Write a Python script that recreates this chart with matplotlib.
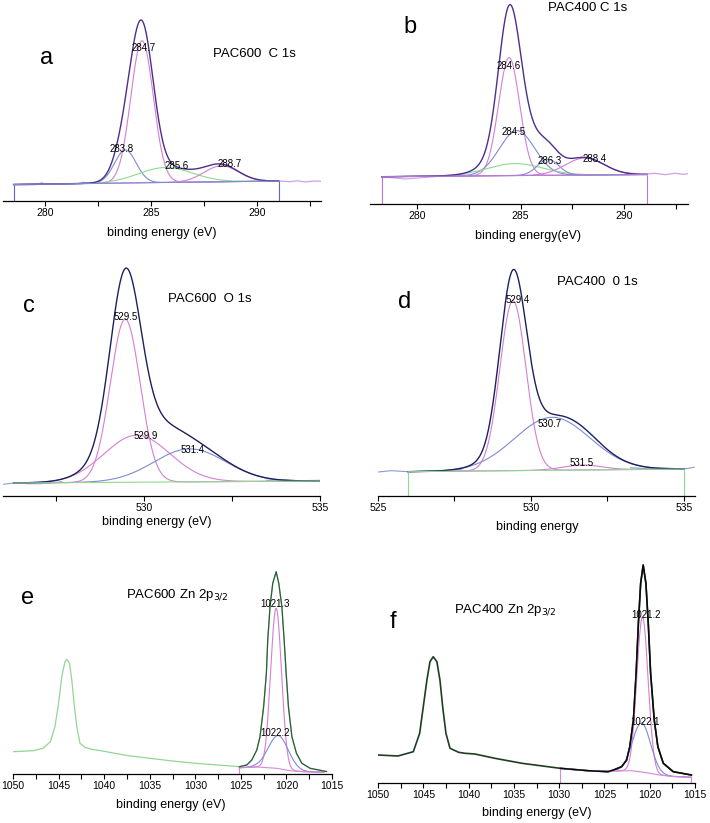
import numpy as np
import matplotlib
matplotlib.use('Agg')
import matplotlib.pyplot as plt
from matplotlib.ticker import MultipleLocator

plt.rcParams['font.family'] = ['Liberation Sans', 'DejaVu Sans']

# ---------------- data (binding energy in eV, intensity in arbitrary units) ----------------
# a: PAC600 C 1s
a_labels = ['283.8', '284.7', '285.6', '288.7']
a_center = [283.77, 284.56, 285.66, 288.30]
a_height = [33, 142, 15, 16]
a_fwhm = [1.2, 1.25, 3.0, 1.9]
a_bg_e = [278.5, 291.0]
a_bg_h = [16.5, 20.0]
a_raw_left_e = [278.49, 279.12, 279.59, 279.82, 280.06, 281.0, 281.55, 281.79, 282.03, 282.42]
a_raw_left_h = [16, 16, 16.3, 18.3, 16.5, 16.7, 17.5, 18.7, 17.5, 18]
a_raw_right_e = [290.3, 291.0, 291.55, 291.86, 292.25, 292.65, 292.97]
a_raw_right_h = [20.5, 20, 19.3, 20.3, 19, 20, 19.7]

# b: PAC400 C 1s
b_labels = ['284.6', '284.5', '', '286.3', '288.4']
b_center = [284.45, 284.83, 284.73, 286.33, 288.10]
b_height = [118, 45, 12, 16, 17]
b_fwhm = [1.2, 2.0, 3.2, 1.2, 2.2]
b_bg_e = [278.3, 291.1]
b_bg_h = [27.3, 29.5]
b_raw_left_e = [278.29, 279.41, 280.86, 281.67, 282.31]
b_raw_left_h = [27.3, 25, 27.3, 28.3, 30]
b_raw_right_e = [290.05, 290.85, 291.1, 291.5, 291.98, 292.46, 292.86, 293.1]
b_raw_right_h = [31.3, 29.7, 30, 30.7, 29.3, 30.7, 29.7, 30.3]

# c: PAC600 O 1s
c_labels = ['529.5', '529.9', '531.4']
c_center = [529.47, 529.80, 531.30]
c_height = [163, 47, 33]
c_fwhm = [1.0, 2.2, 2.4]
c_bg_e = [526.3, 535.0]
c_bg_h = [13.0, 15.0]
c_raw_left_e = [526.0, 526.39, 526.68, 527.05, 527.34, 527.67]
c_raw_left_h = [11.7, 13.3, 12.3, 12.3, 13, 14.3]
c_raw_right_e = [533.49, 533.96, 534.44, 535.0]
c_raw_right_h = [15.7, 16.3, 15.3, 15.7]

# d: PAC400 O 1s
d_labels = ['529.4', '530.7', '531.5']
d_center = [529.41, 530.69, 531.67]
d_height = [170, 53, 5]
d_fwhm = [1.0, 2.9, 1.5]
d_bg_e = [525.98, 535.0]
d_bg_h = [24.3, 27.0]
d_raw_left_e = [525.0, 525.44, 525.98, 526.64, 527.18, 527.73]
d_raw_left_h = [24, 25.3, 24.3, 25.3, 25.3, 26.7]
d_raw_right_e = [533.26, 533.8, 534.34, 535.0, 535.33]
d_raw_right_h = [28.3, 27.3, 28, 27, 28.7]

# e: PAC600 Zn 2p3/2
e_labels = ['1021.3', '1022.2']
e_center = [1021.13, 1020.88]
e_height = [160, 33]
e_fwhm = [1.4, 2.6]
e_bg_e = [1015.9, 1018.1, 1019.6, 1021.06, 1023.25, 1025.16]
e_bg_h = [1.7, 2.3, 3.3, 5.7, 7.0, 6.3]
e_raw_e = [1050.0, 1047.8, 1046.7, 1045.9, 1045.4, 1045.0, 1044.65, 1044.3, 1044.1, 1043.8,
           1043.55, 1043.3, 1043.0, 1042.65, 1042.1, 1041.4, 1040.2, 1037.5, 1035.0, 1032.5,
           1030.0, 1027.5, 1025.16, 1024.35, 1023.8, 1023.25, 1022.9, 1022.5, 1022.2, 1022.05,
           1021.8, 1021.5, 1021.13, 1020.84, 1020.5, 1020.25, 1020.03, 1019.78, 1019.4, 1018.9,
           1018.3, 1017.4, 1015.9, 1015.6]
e_raw_h = [22.3, 23.3, 25.7, 32.3, 47.3, 70.7, 97.3, 112.3, 114.7, 110.7,
           94, 70.7, 47.3, 30.7, 26.7, 24.7, 23.0, 18.5, 15.7, 13.0,
           10.7, 9.0, 7.3, 9, 14, 24, 37.3, 67.3, 100.7, 134,
           167.3, 190.7, 202.3, 190.7, 167.3, 134, 100.7, 67.3, 37.3, 20.7,
           10.7, 5.7, 3, 2.5]

# f: PAC400 Zn 2p3/2
f_labels = ['1021.2', '1022.1']
f_center = [1020.80, 1020.90]
f_height = [155, 49]
f_fwhm = [1.47, 2.35]
f_bg_e = [1015.4, 1017.4, 1018.9, 1020.5, 1022.0, 1024.4, 1026.8, 1029.9]
f_bg_h = [5.7, 6.5, 8, 10.5, 12.3, 12, 12.3, 14.7]
f_raw_e = [1050.0, 1047.8, 1046.1, 1045.4, 1045.0, 1044.6, 1044.26, 1043.9, 1043.5, 1043.16,
           1042.86, 1042.5, 1042.05, 1041.1, 1040.4, 1039.3, 1037.1, 1034.1, 1029.9, 1026.8,
           1024.6, 1024.0, 1023.1, 1022.55, 1022.2, 1021.8, 1021.5, 1021.25, 1021.0, 1020.72,
           1020.42, 1020.16, 1019.9, 1019.5, 1019.1, 1018.5, 1017.4, 1015.4]
f_raw_h = [28, 27, 31.3, 49.7, 76.3, 103, 121.3, 126.3, 121.3, 103,
           76.3, 49.7, 34.7, 30.7, 29.7, 29, 24.7, 19.7, 14.7, 12.3,
           11.3, 13, 16.3, 23, 36.3, 63, 109.7, 159.7, 199.7, 218,
           199.7, 159.7, 109.7, 63, 36.3, 19.7, 11.3, 8]

# ---------------- colours ----------------
PINK = '#d57fd2'
BLUE = '#7d8bd6'
GREEN = '#8ed98e'

fig = plt.figure(figsize=(7.1, 8.23), dpi=100)
W, H = 710, 823


def px_axes(left, right, bottom, top, xlim):
    ax = fig.add_axes([left / W, 1 - bottom / H, (right - left) / W, (bottom - top) / H])
    ax.set_xlim(*xlim)
    ax.set_ylim(0, bottom - top)
    for s in ['left', 'right', 'top']:
        ax.spines[s].set_visible(False)
    ax.spines['bottom'].set_linewidth(0.9)
    ax.set_yticks([])
    ax.patch.set_alpha(0)
    ax.xaxis.set_major_locator(MultipleLocator(5))
    ax.xaxis.set_minor_locator(MultipleLocator(2.5))
    ax.tick_params(axis='x', which='both', direction='out', length=3.5, width=0.8,
                   pad=1.5, labelsize=7.5)
    ax._box = (left, right, bottom, top)
    return ax


def xlabel(ax, text, cx, cy):
    left, right, bottom, top = ax._box
    ax.set_xlabel(text, fontsize=9, va='center')
    ax.xaxis.set_label_coords((cx - left) / (right - left), -(cy - bottom) / (bottom - top))


def titles(letter, lx, ly, name, nx, ny):
    fig.text(lx / W, 1 - ly / H, letter, fontsize=17, ha='center', va='center')
    fig.text(nx / W, 1 - ny / H, name, fontsize=9.5, ha='left', va='center')


def components(ax, bg_e, bg_h, centers, heights, fwhm, colors, lo, hi):
    x = np.linspace(lo, hi, 800)
    base = np.interp(x, bg_e, bg_h)
    total = base.copy()
    for c, h, w, col in zip(centers, heights, fwhm, colors):
        y = h * np.exp(-4 * np.log(2) * (x - c) ** 2 / w ** 2)
        ax.plot(x, base + y, color=col, lw=0.8)
        total = total + y
    return x, total


def peak_labels(ax, labels, pos):
    for s, (e, h) in zip(labels, pos):
        if s:
            ax.text(e, h, s, fontsize=7, ha='center', va='center')


# ---------------- a ----------------
ax = px_axes(3, 321, 201, 0, (278.0, 293.0))
ax.plot(a_raw_left_e, a_raw_left_h, color='#b9a0dc', lw=0.8)
ax.plot(a_raw_right_e, a_raw_right_h, color='#c9a3e3', lw=0.9)
x, tot = components(ax, a_bg_e, a_bg_h, a_center, a_height, a_fwhm,
                    [BLUE, PINK, GREEN, PINK], a_bg_e[0], a_bg_e[-1])
ax.plot(x, tot, color='#4b2f8c', lw=1.0)
ax.plot(a_bg_e, a_bg_h, color='#7f8cd0', lw=0.8)
ax.vlines(a_bg_e, 0, a_bg_h, color='#5a68c0', lw=0.8)
peak_labels(ax, a_labels, [(283.61, 52), (284.65, 153), (286.21, 35), (288.71, 37)])
xlabel(ax, 'binding energy (eV)', 162, 233)
titles('a', 47, 58, 'PAC600  C 1s', 213, 54)

# ---------------- b ----------------
ax = px_axes(370, 688, 204, 0, (277.73, 293.09))
ax.plot(b_raw_left_e, b_raw_left_h, color='#c9a3e3', lw=0.8)
ax.plot(b_raw_right_e, b_raw_right_h, color='#c9a3e3', lw=0.9)
x, tot = components(ax, b_bg_e, b_bg_h, b_center, b_height, b_fwhm,
                    [PINK, BLUE, GREEN, BLUE, PINK], b_bg_e[0], b_bg_e[-1])
ax.plot(x, tot, color='#4b2f8c', lw=1.0)
ax.plot(b_bg_e, b_bg_h, color='#b47ad8', lw=0.8)
ax.vlines(b_bg_e, 0, b_bg_h, color='#b47ad8', lw=0.8)
peak_labels(ax, b_labels, [(284.41, 138), (284.69, 72), (0, 0), (286.43, 43), (288.6, 45)])
xlabel(ax, 'binding energy(eV)', 528, 236)
titles('b', 410, 27, 'PAC400 C 1s', 548, 8)

# ---------------- c ----------------
ax = px_axes(3, 320, 496, 245, (526.0, 535.0))
ax.plot(c_raw_left_e, c_raw_left_h, color='#8e9bd6', lw=0.8)
ax.plot(c_raw_right_e, c_raw_right_h, color='#8e9bd6', lw=0.8)
x, tot = components(ax, c_bg_e, c_bg_h, c_center, c_height, c_fwhm,
                    [PINK, PINK, BLUE], c_bg_e[0], c_bg_e[-1])
ax.plot(x, tot, color='#1e1f5e', lw=1.0)
ax.plot(c_bg_e, c_bg_h, color=GREEN, lw=0.8)
ax.vlines(c_bg_e[-1], 0, c_bg_h[-1], color=GREEN, lw=0.8)
peak_labels(ax, c_labels, [(529.47, 179), (530.05, 60), (531.39, 46)])
xlabel(ax, 'binding energy (eV)', 157, 522)
titles('c', 29, 306, 'PAC600  O 1s', 168, 299)

# ---------------- d ----------------
ax = px_axes(378, 695, 496, 245, (525.0, 535.36))
ax.plot(d_raw_left_e, d_raw_left_h, color='#8e9bd6', lw=0.8)
ax.plot(d_raw_right_e, d_raw_right_h, color='#8e9bd6', lw=0.8)
x, tot = components(ax, d_bg_e, d_bg_h, d_center, d_height, d_fwhm,
                    [PINK, BLUE, PINK], d_bg_e[0], d_bg_e[-1])
ax.plot(x, tot, color='#1e1f5e', lw=1.0)
ax.plot(d_bg_e, d_bg_h, color=GREEN, lw=0.8)
ax.vlines(d_bg_e, 0, d_bg_h, color=GREEN, lw=0.8)
peak_labels(ax, d_labels, [(529.57, 196), (530.62, 72), (531.66, 33)])
xlabel(ax, 'binding energy', 537, 527)
titles('d', 405, 302, 'PAC400  0 1s', 557, 282)

# ---------------- e ----------------
ax = px_axes(13, 332, 774, 545, (1050, 1015))
ax.plot(e_raw_e, e_raw_h, color='#93d593', lw=0.9)
components(ax, e_bg_e, e_bg_h, e_center, e_height, e_fwhm, [PINK, BLUE],
           e_bg_e[0], e_bg_e[-1])
ax.plot(e_bg_e, e_bg_h, color='#d58ad8', lw=0.8)
ax.vlines(e_bg_e[-1], 0, 7.3, color='#d58ad8', lw=0.8)
fit = [(e, h) for e, h in zip(e_raw_e, e_raw_h) if e <= e_bg_e[-1]]
ax.plot([p[0] for p in fit], [p[1] for p in fit], color='#2e5c3c', lw=0.9)
peak_labels(ax, e_labels, [(1021.24, 170), (1021.24, 41)])
xlabel(ax, 'binding energy (eV)', 171, 805)
titles('e', 28, 598, 'PAC600 Zn 2p$_{3/2}$', 126, 595)

# ---------------- f ----------------
ax = px_axes(378, 695, 783, 545, (1050, 1015))
ax.plot(f_raw_e, f_raw_h, color='#1f3d24', lw=1.2)
components(ax, f_bg_e, f_bg_h, f_center, f_height, f_fwhm, [PINK, BLUE],
           f_bg_e[0], f_bg_e[-1])
ax.plot(f_bg_e, f_bg_h, color='#d58ad8', lw=0.8)
ax.vlines([f_bg_e[0], f_bg_e[-1]], 0, [f_bg_h[0], f_bg_h[-1]], color='#d58ad8', lw=0.8)
fit = [(e, h) for e, h in zip(f_raw_e, f_raw_h) if e <= f_bg_e[-1]]
ax.plot([p[0] for p in fit], [p[1] for p in fit], color='#0a0a0a', lw=1.1)
peak_labels(ax, f_labels, [(1020.42, 168), (1020.53, 61)])
xlabel(ax, 'binding energy (eV)', 537, 813)
titles('f', 393, 622, 'PAC400 Zn 2p$_{3/2}$', 454, 610)

fig.savefig('out.png', dpi=100)
